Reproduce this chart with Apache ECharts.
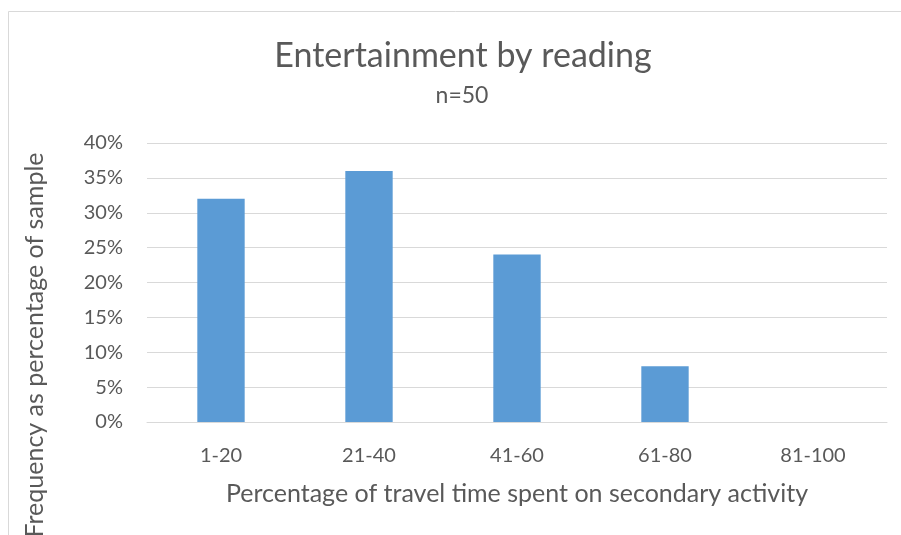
<!DOCTYPE html>
<html>
<head>
<meta charset="utf-8">
<script src="https://cdn.jsdelivr.net/npm/echarts@6/dist/echarts.min.js"></script>
<style>
  html, body { margin: 0; padding: 0; background: #fff; }
  #chart { width: 901px; height: 535px; }
</style>
</head>
<body>
<div id="chart"></div>
<script>
// Share of respondents by the percentage of travel time spent reading
const categories = ['1-20', '21-40', '41-60', '61-80', '81-100'];
const frequencyPct = [32, 36, 24, 8, 0];
const yTicks = { min: 0, max: 40, interval: 5 };

const titleText = 'Entertainment by reading';
const subtitleText = 'n=50';
const xAxisName = 'Percentage of travel time spent on secondary activity';
const yAxisName = 'Frequency as percentage of sample';

const FONT = 'Lato, "Open Sans", sans-serif';
const TEXT = '#595959';
const LINE = '#D9D9D9';

const chart = echarts.init(document.getElementById('chart'), null, { renderer: 'canvas' });

chart.setOption({
  backgroundColor: '#fff',
  animation: false,
  grid: { left: 147, right: 14, top: 143, bottom: 113, containLabel: false },
  xAxis: {
    type: 'category',
    data: categories,
    axisLine: { show: true, lineStyle: { color: LINE, width: 1 } },
    axisTick: { show: false },
    axisLabel: { fontFamily: FONT, fontSize: 20, color: TEXT, margin: 24 },
    name: xAxisName,
    nameLocation: 'middle',
    nameGap: 59,
    nameTextStyle: { fontFamily: FONT, fontSize: 25, color: TEXT }
  },
  yAxis: {
    type: 'value',
    min: yTicks.min,
    max: yTicks.max,
    interval: yTicks.interval,
    axisLine: { show: false },
    axisTick: { show: false },
    splitLine: { show: true, lineStyle: { color: LINE, width: 1 } },
    axisLabel: { fontFamily: FONT, fontSize: 20, color: TEXT, margin: 24, formatter: '{value}%' }
  },
  graphic: [
    {
      // chart-area frame
      type: 'rect',
      silent: true,
      shape: { x: 8.5, y: 11.5, width: 1200, height: 1200 },
      style: { fill: 'none', stroke: LINE, lineWidth: 1 }
    },
    {
      // title
      type: 'text',
      silent: true,
      x: 463,
      y: 56,
      style: {
        text: titleText,
        fontFamily: FONT,
        fontSize: 34,
        fill: TEXT,
        align: 'center',
        verticalAlign: 'middle'
      }
    },
    {
      // subtitle
      type: 'text',
      silent: true,
      x: 462,
      y: 96,
      style: {
        text: subtitleText,
        fontFamily: FONT,
        fontSize: 23,
        fill: TEXT,
        align: 'center',
        verticalAlign: 'middle'
      }
    },
    {
      // y-axis name
      type: 'text',
      silent: true,
      x: 35,
      y: 345,
      rotation: Math.PI / 2,
      style: {
        text: yAxisName,
        fontFamily: FONT,
        fontSize: 25,
        fill: TEXT,
        align: 'center',
        verticalAlign: 'middle'
      }
    }
  ],
  series: [
    {
      type: 'bar',
      data: frequencyPct,
      barWidth: '32%',
      itemStyle: { color: '#5B9BD5' }
    }
  ]
});
</script>
</body>
</html>
